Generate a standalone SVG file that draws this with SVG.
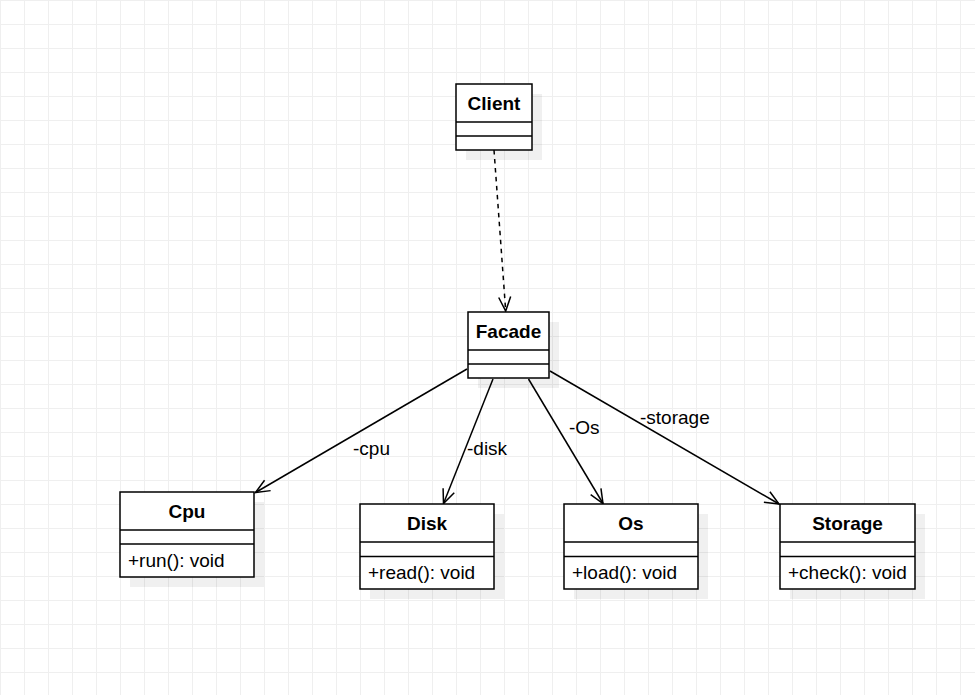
<svg xmlns="http://www.w3.org/2000/svg" width="975" height="695" viewBox="0 0 975 695">
<style>
.box{fill:#ffffff;stroke:#000000;stroke-width:1.5}
.sep{stroke:#000000;stroke-width:1.5}
.shadow{fill:#000000;fill-opacity:0.06}
.title{font-family:"Liberation Sans",Arial,sans-serif;font-size:19px;font-weight:bold;text-anchor:middle;fill:#000000}
.txt{font-family:"Liberation Sans",Arial,sans-serif;font-size:19px;fill:#000000}
.edge{fill:none;stroke:#000000;stroke-width:1.5}
.dash{stroke-dasharray:4.5 4.5}
</style>
<defs>
<pattern id="grid" x="0" y="0" width="24" height="24" patternUnits="userSpaceOnUse">
<path d="M0.5,0 V24 M0,0.5 H24" fill="none" stroke="#efefef" stroke-width="1"/>
</pattern>
<marker id="open" markerUnits="userSpaceOnUse" markerWidth="20" markerHeight="20" refX="14" refY="6" orient="auto" overflow="visible">
<path d="M0,0 L14,6 L0,12" fill="none" stroke="#000000" stroke-width="1.5"/>
</marker>
</defs>
<rect width="975" height="695" fill="#ffffff"/>
<rect width="975" height="695" fill="url(#grid)"/>

<g id="connectors">
<path class="edge dash" d="M494,150 L505.7,311" marker-end="url(#open)"/>
<path class="edge" d="M467,369 L255.5,492.5" marker-end="url(#open)"/>
<path class="edge" d="M493,379 L443.5,503.5" marker-end="url(#open)"/>
<path class="edge" d="M528.5,379 L603,503.5" marker-end="url(#open)"/>
<path class="edge" d="M550,371 L779,504" marker-end="url(#open)"/>
<text class="txt" x="353" y="455">-cpu</text>
<text class="txt" x="467" y="455">-disk</text>
<text class="txt" x="569" y="434">-Os</text>
<text class="txt" x="640" y="424">-storage</text>
</g>

<g id="client">
<rect class="shadow" x="466" y="94" width="76" height="66"/>
<rect class="box" x="456" y="84" width="76" height="66"/>
<line class="sep" x1="456" y1="122" x2="532" y2="122"/>
<line class="sep" x1="456" y1="136" x2="532" y2="136"/>
<text class="title" x="494" y="110">Client</text>
</g>

<g id="facade">
<rect class="shadow" x="478" y="322" width="81" height="66"/>
<rect class="box" x="468" y="312" width="81" height="66"/>
<line class="sep" x1="468" y1="350" x2="549" y2="350"/>
<line class="sep" x1="468" y1="364" x2="549" y2="364"/>
<text class="title" x="508.5" y="338">Facade</text>
</g>

<g id="cpu">
<rect class="shadow" x="130" y="502" width="134" height="85"/>
<rect class="box" x="120" y="492" width="134" height="85"/>
<line class="sep" x1="120" y1="530" x2="254" y2="530"/>
<line class="sep" x1="120" y1="544" x2="254" y2="544"/>
<text class="title" x="187" y="518">Cpu</text>
<text class="txt" x="128" y="567">+run(): void</text>
</g>

<g id="disk">
<rect class="shadow" x="370" y="514" width="134" height="85"/>
<rect class="box" x="360" y="504" width="134" height="85"/>
<line class="sep" x1="360" y1="542" x2="494" y2="542"/>
<line class="sep" x1="360" y1="556.5" x2="494" y2="556.5"/>
<text class="title" x="427" y="530">Disk</text>
<text class="txt" x="368" y="579">+read(): void</text>
</g>

<g id="os">
<rect class="shadow" x="574" y="514" width="134" height="85"/>
<rect class="box" x="564" y="504" width="134" height="85"/>
<line class="sep" x1="564" y1="542" x2="698" y2="542"/>
<line class="sep" x1="564" y1="556.5" x2="698" y2="556.5"/>
<text class="title" x="631" y="530">Os</text>
<text class="txt" x="572" y="579">+load(): void</text>
</g>

<g id="storage">
<rect class="shadow" x="790" y="514" width="135" height="85"/>
<rect class="box" x="780" y="504" width="135" height="85"/>
<line class="sep" x1="780" y1="542" x2="915" y2="542"/>
<line class="sep" x1="780" y1="556.5" x2="915" y2="556.5"/>
<text class="title" x="847.5" y="530">Storage</text>
<text class="txt" x="788" y="579">+check(): void</text>
</g>
</svg>
